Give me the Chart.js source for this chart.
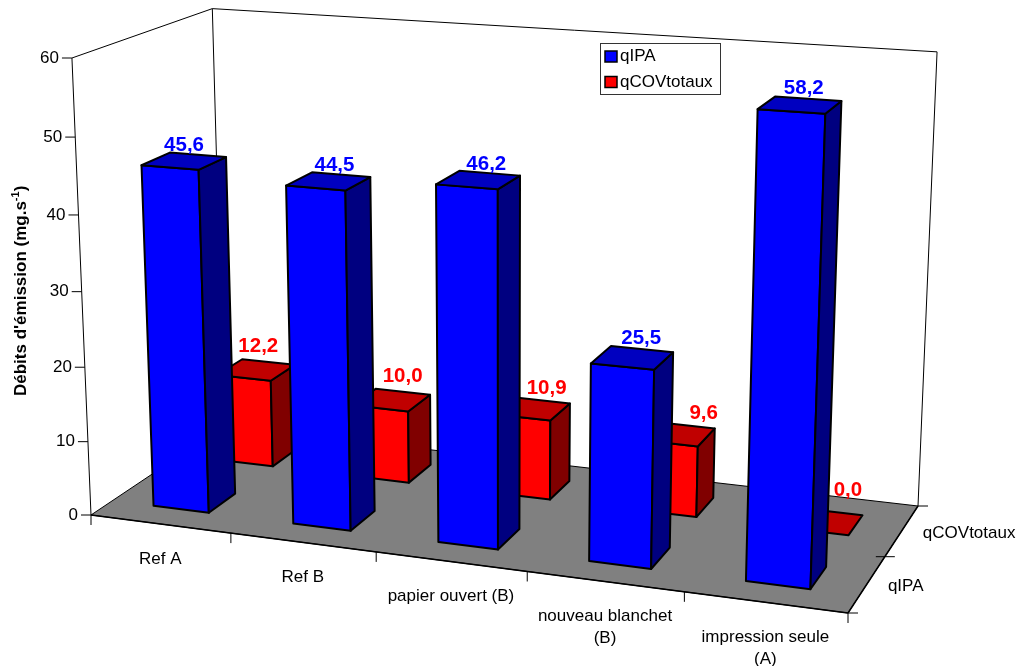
<!DOCTYPE html>
<html>
<head>
<meta charset="utf-8">
<title>Débits d'émission</title>
<script src="https://cdn.jsdelivr.net/npm/chart.js@4"></script>
<style>
    html, body { margin: 0; padding: 0; background: #fff; }
    canvas { display: block; }
</style>
</head>
<body>
<canvas id="bars3d" width="1020" height="666"></canvas>
<script>
const categories = [['Ref A'], ['Ref B'], ['papier ouvert (B)'], ['nouveau blanchet', '(B)'], ['impression seule', '(A)']];
const seriesNames = ['qIPA', 'qCOVtotaux'];
const qIPA = [45.6, 44.5, 46.2, 25.5, 58.2];
const qCOVtotaux = [12.2, 10.0, 10.9, 9.6, 0.0];
const valueTicks = [0, 10, 20, 30, 40, 50, 60];

const FONT = '"Liberation Sans", Arial, sans-serif';
const faces = [
    { front: '#0000ff', top: '#0000c0', side: '#000080', label: '#0000ff' },
    { front: '#ff0000', top: '#c00000', side: '#800000', label: '#ff0000' }
];

// corners of the floor in the photo, then where the verticals converge
const floorQuad = [[91, 515], [848, 613], [918, 506], [224, 426]];
const wallTop = [72, 58];
const vertical = [503, 10400];

// hand placed label shifts, the original app did not put them anywhere regular
const labelNudge = [
    [[0, 2], [6, 2], [8, 2], [9, -1], [4, 1]],
    [[2, 1], [11, 1], [15, 5], [27, 4], [23, -6]]
];

function makeCamera() {
    const [[x0, y0], [x1, y1], [x2, y2], [x3, y3]] = floorQuad;
    const dx1 = x1 - x2, dx2 = x3 - x2, sx = x0 - x1 + x2 - x3;
    const dy1 = y1 - y2, dy2 = y3 - y2, sy = y0 - y1 + y2 - y3;
    const den = dx1 * dy2 - dx2 * dy1;
    const g = (sx * dy2 - dx2 * sy) / den;
    const h = (dx1 * sy - sx * dy1) / den;
    const a = x1 - x0 + g * x1, b = x3 - x0 + h * x3;
    const d = y1 - y0 + g * y1, e = y3 - y0 + h * y3;
    const k = (wallTop[1] - y0) / (vertical[1] - wallTop[1]);
    // u along the categories, v into the depth, t = share of the value axis
    return (u, v, t) => {
        const w = g * u + h * v + 1 + k * t;
        return [
            (a * u + b * v + x0 + k * t * vertical[0]) / w,
            (d * u + e * v + y0 + k * t * vertical[1]) / w
        ];
    };
}
const project = makeCamera();

function poly(ctx, pts, fill) {
    ctx.beginPath();
    pts.forEach((p, i) => i ? ctx.lineTo(p[0], p[1]) : ctx.moveTo(p[0], p[1]));
    ctx.closePath();
    if (fill) {
        ctx.fillStyle = fill;
        ctx.fill();
    }
    ctx.stroke();
}

function line(ctx, a, b) {
    ctx.beginPath();
    ctx.moveTo(a[0], a[1]);
    ctx.lineTo(b[0], b[1]);
    ctx.stroke();
}

function share(chart, value) {
    const y = chart.scales.y;
    return (y.bottom - y.getPixelForValue(value)) / (y.bottom - y.top);
}

function depthOf(index, part) {
    return (index + part) / seriesNames.length;
}

// bar controller that keeps the library's x, y, base and width but draws boxes
class Bar3dController extends Chart.BarController {
    draw() {
        const chart = this.chart, ctx = chart.ctx, x = chart.scales.x, y = chart.scales.y;
        const span = y.bottom - y.top;
        const col = faces[this.index];
        const v0 = depthOf(this.index, 0.3), v1 = depthOf(this.index, 0.7);
        ctx.save();
        ctx.strokeStyle = '#000';
        ctx.lineWidth = 2;
        ctx.lineJoin = 'round';
        this.getMeta().data.forEach(bar => {
            const u0 = (bar.x - bar.width / 2 - x.left) / x.width;
            const u1 = (bar.x + bar.width / 2 - x.left) / x.width;
            const t = (bar.base - bar.y) / span;
            if (t > 0) {
                poly(ctx, [project(u0, v0, 0), project(u1, v0, 0), project(u1, v0, t), project(u0, v0, t)], col.front);
                poly(ctx, [project(u1, v0, 0), project(u1, v1, 0), project(u1, v1, t), project(u1, v0, t)], col.side);
            }
            poly(ctx, [project(u0, v0, t), project(u1, v0, t), project(u1, v1, t), project(u0, v1, t)], col.top);
        });
        ctx.restore();
    }
}
Bar3dController.id = 'bar3d';
Bar3dController.defaults = Chart.BarController.defaults;
Bar3dController.overrides = Chart.BarController.overrides;
Chart.register(Bar3dController);

const framePlugin = {
    id: 'frame3d',
    beforeDatasetsDraw(chart) {
        const ctx = chart.ctx;
        ctx.save();
        ctx.strokeStyle = '#000';
        ctx.lineWidth = 1;
        poly(ctx, [project(0, 0, 0), project(1, 0, 0), project(1, 1, 0), project(0, 1, 0)], '#808080');
        line(ctx, project(0, 0, 0), project(0, 0, 1));
        line(ctx, project(0, 1, 0), project(0, 1, 1));
        line(ctx, project(1, 1, 0), project(1, 1, 1));
        line(ctx, project(0, 0, 1), project(0, 1, 1));
        line(ctx, project(0, 1, 1), project(1, 1, 1));
        ctx.lineWidth = 1.5;
        line(ctx, project(0, 0, 0), project(1, 0, 0));
        line(ctx, project(1, 0, 0), project(1, 1, 0));
        ctx.lineWidth = 1;

        // value axis
        ctx.fillStyle = '#000';
        ctx.font = '17px ' + FONT;
        ctx.textAlign = 'right';
        ctx.textBaseline = 'middle';
        valueTicks.forEach(v => {
            const p = project(0, 0, share(chart, v));
            line(ctx, [p[0] - 10, p[1]], p);
            ctx.fillText(String(v), p[0] - 13, p[1]);
        });

        // categories along the front edge
        ctx.textAlign = 'center';
        for (let i = 0; i <= categories.length; i++) {
            const p = project(i / categories.length, 0, 0);
            line(ctx, p, [p[0], p[1] + 10]);
        }
        categories.forEach((lines, i) => {
            const p = project((i + 0.5) / categories.length, 0, 0);
            lines.forEach((txt, j) => ctx.fillText(txt, p[0], p[1] + 35 + j * 22));
        });

        // series along the right edge
        ctx.textAlign = 'left';
        line(ctx, project(1, 0, 0), [project(1, 0, 0)[0] + 10, project(1, 0, 0)[1]]);
        line(ctx, project(1, 1, 0), [project(1, 1, 0)[0] + 10, project(1, 1, 0)[1]]);
        const mid = project(1, 0.5, 0);
        line(ctx, [mid[0] - 9, mid[1]], [mid[0] + 10, mid[1]]);
        seriesNames.forEach((name, i) => {
            const p = project(1, depthOf(i, 0.5), 0);
            ctx.fillText(name, p[0] + 21, p[1] + 2.5);
        });

        // axis title
        ctx.translate(26, 396);
        ctx.rotate(-Math.PI / 2);
        ctx.font = 'bold 17px ' + FONT;
        ctx.textBaseline = 'alphabetic';
        const title = "Débits d'émission (mg.s";
        ctx.fillText(title, 0, 0);
        let w = ctx.measureText(title).width;
        ctx.font = 'bold 11px ' + FONT;
        ctx.fillText('-1', w, -7);
        w += ctx.measureText('-1').width;
        ctx.font = 'bold 17px ' + FONT;
        ctx.fillText(')', w, 0);
        ctx.restore();
    },
    afterDatasetsDraw(chart) {
        const ctx = chart.ctx;
        ctx.save();
        ctx.textAlign = 'center';
        ctx.textBaseline = 'middle';
        ctx.font = 'bold 20.5px ' + FONT;
        chart.data.datasets.forEach((ds, s) => {
            ctx.fillStyle = faces[s].label;
            ds.data.forEach((value, i) => {
                const p = project((i + 0.5) / categories.length, depthOf(s, 0.5), share(chart, value));
                const [dx, dy] = labelNudge[s][i];
                ctx.fillText(value.toFixed(1).replace('.', ','), p[0] + dx, p[1] - 18 + dy - s * 7);
            });
        });

        // legend
        ctx.strokeStyle = '#333';
        ctx.lineWidth = 1;
        ctx.strokeRect(600.5, 43.5, 120, 51);
        ctx.font = '17px ' + FONT;
        ctx.textAlign = 'left';
        seriesNames.forEach((name, i) => {
            const top = 51 + i * 25.5;
            ctx.fillStyle = faces[i].front;
            ctx.strokeStyle = '#000';
            ctx.lineWidth = 1.5;
            ctx.fillRect(605, top, 12, 11);
            ctx.strokeRect(605, top, 12, 11);
            ctx.fillStyle = '#000';
            ctx.fillText(name, 620, top + 5.5);
        });
        ctx.restore();
    }
};

const chart = new Chart(document.getElementById('bars3d').getContext('2d'), {
    type: 'bar3d',
    data: {
        labels: categories,
        datasets: [
            { label: seriesNames[0], data: qIPA, grouped: false, barPercentage: 0.4, categoryPercentage: 1 },
            { label: seriesNames[1], data: qCOVtotaux, grouped: false, barPercentage: 0.4, categoryPercentage: 1 }
        ]
    },
    options: {
        responsive: false,
        animation: false,
        layout: { padding: 0 },
        scales: {
            x: { type: 'category', display: false, offset: true },
            y: { type: 'linear', display: false, min: 0, max: 60 }
        },
        plugins: {
            legend: { display: false },
            tooltip: { enabled: false }
        }
    },
    plugins: [framePlugin]
});
</script>
</body>
</html>
